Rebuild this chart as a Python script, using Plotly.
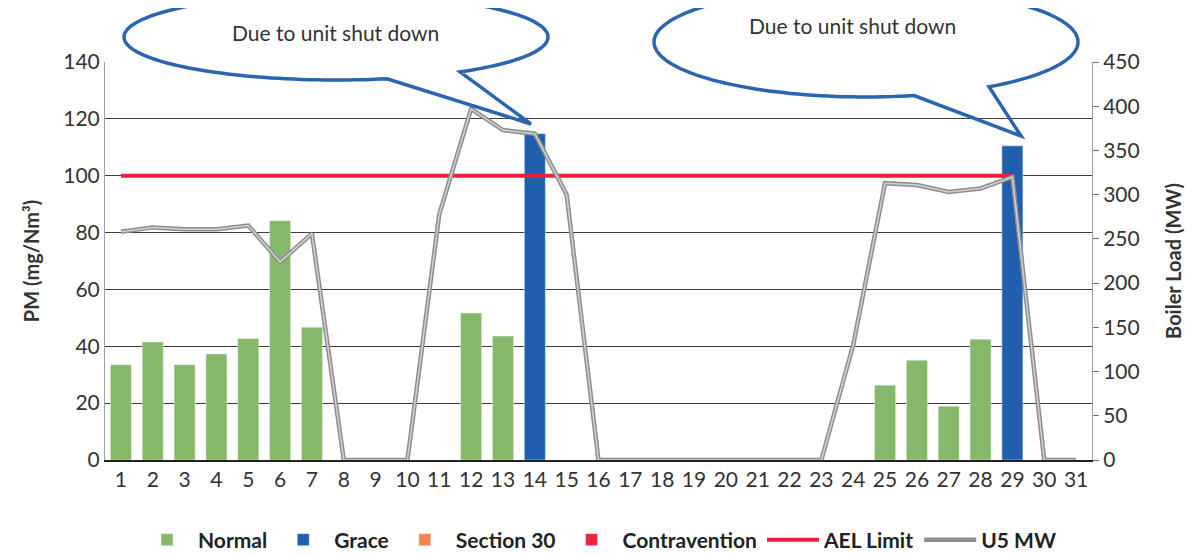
import numpy as np
import plotly.graph_objects as go

# ---- data ----
days = list(range(1, 32))

normal = [33.5, 41.5, 33.5, 37.3, 42.7, 84.2, 46.7, None, None, None,
          None, 51.7, 43.6, None, None, None, None, None, None, None,
          None, None, None, None, 26.3, 35.1, 18.9, 42.5, None, None, None]
grace = [None] * 13 + [114.8] + [None] * 14 + [110.5] + [None] * 2
section30 = [None] * 31
contravention = [None] * 31
ael_limit = [100] * 29 + [None] * 2
u5_mw = [258, 263, 261, 261, 265, 224, 256, 0, 0, 0,
         278, 397, 373, 369, 300, 0, 0, 0, 0, 0,
         0, 0, 0, 130, 313, 311, 303, 307, 320, 0, 0]

callout_text = "Due to unit shut down"

FONT = "Lato"
OFF = 8  # page body margin
W, H = 1201 - OFF, 554 - OFF
L, R, T, B = 105 - OFF, 109, 62 - OFF, 94
PW, PH = W - L - R, H - T - B


def px2paper(x, y):
    # screen pixel -> paper coordinates
    return (x - OFF - L) / PW, (H - B - (y - OFF)) / PH


def callout_path(cx, cy, rx, ry, a, b, tip):
    # ellipse outline with a gap between the tail base points, closed through the tip
    ta = np.arccos((a - cx) / rx)
    tb = np.arccos((b - cx) / rx)
    t = np.linspace(ta, tb + 2 * np.pi, 160)
    pts = [px2paper(cx + rx * np.cos(v), cy + ry * np.sin(v)) for v in t]
    pts.append(px2paper(*tip))
    d = "M " + " L ".join(f"{p[0]:.4f},{p[1]:.4f}" for p in pts) + " Z"
    return d


fig = go.Figure()

fig.add_trace(go.Bar(x=days, y=normal, name="Normal", marker_color="#86B86A", width=0.66))
fig.add_trace(go.Bar(x=days, y=grace, name="Grace", marker_color="#1F5FAD", width=0.66))
fig.add_trace(go.Bar(x=days, y=section30, name="Section 30", marker_color="#F0864A", width=0.66))
fig.add_trace(go.Bar(x=days, y=contravention, name="Contravention", marker_color="#E8283F", width=0.66))
fig.add_trace(go.Scatter(x=days, y=ael_limit, name="AEL Limit", mode="lines",
                         line=dict(color="#E8203A", width=4)))
fig.add_trace(go.Scatter(x=days, y=u5_mw, name="U5 MW", mode="lines", yaxis="y2",
                         line=dict(color="#8E8E8E", width=4.5)))
fig.add_trace(go.Scatter(x=days, y=u5_mw, mode="lines", yaxis="y2", showlegend=False,
                         hoverinfo="skip", line=dict(color="#D2D2D2", width=1.5)))

shapes = [
    dict(type="path", xref="paper", yref="paper",
         path=callout_path(336, 37, 212, 43, 387, 460, (531, 124)),
         line=dict(color="#2A66B0", width=3.5)),
    dict(type="path", xref="paper", yref="paper",
         path=callout_path(866, 42, 212, 55, 914, 989, (1021, 136)),
         line=dict(color="#2A66B0", width=3.5)),
]

annotations = []
for (x, y) in [(335, 32), (852, 25)]:
    ax, ay = px2paper(x, y)
    annotations.append(dict(x=ax, y=ay, xref="paper", yref="paper", text=callout_text,
                            xanchor="center", yanchor="middle", showarrow=False,
                            font=dict(family=FONT, size=21, color="#333333")))

fig.update_layout(
    width=W, height=H,
    margin=dict(l=L, r=R, t=T, b=B, autoexpand=False),
    plot_bgcolor="white", paper_bgcolor="white",
    barmode="overlay",
    font=dict(family=FONT, size=21, color="#333333"),
    shapes=shapes,
    annotations=annotations,
    legend=dict(orientation="h", x=0.5, xanchor="center",
                y=-(540 - 460) / PH, yanchor="middle",
                font=dict(family=FONT, size=21, color="#222222", weight="bold"),
                itemwidth=52, traceorder="normal"),
    xaxis=dict(range=[0.5, 31.5], tickmode="array", tickvals=days, ticks="",
               showgrid=False, showline=True, linecolor="#222222", linewidth=1.5,
               tickfont=dict(size=21, color="#333333"), fixedrange=True),
    yaxis=dict(range=[0, 140], dtick=20, showgrid=True, gridcolor="#3C3C3C", gridwidth=1.4,
               showline=True, linecolor="#A0A0A0", linewidth=1, ticks="",
               zeroline=False,
               title=dict(text="PM (mg/Nm³)", font=dict(size=20, weight="bold", color="#333333"),
                          standoff=18),
               tickfont=dict(size=21, color="#333333")),
    yaxis2=dict(range=[0, 450], dtick=50, overlaying="y", side="right", showgrid=False,
                showline=True, linecolor="#A0A0A0", linewidth=1, ticks="outside",
                ticklen=6, tickcolor="#707070", zeroline=False,
                title=dict(text="Boiler Load (MW)", font=dict(size=20, weight="bold", color="#333333"),
                           standoff=28),
                tickfont=dict(size=21, color="#333333")),
)

fig.write_html("out.html")
